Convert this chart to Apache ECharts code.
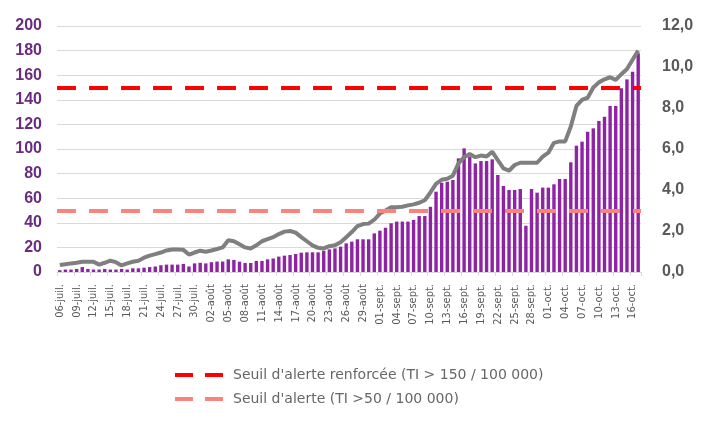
<!DOCTYPE html>
<html>
<head>
<meta charset="utf-8">
<script src="https://cdn.jsdelivr.net/npm/echarts@6/dist/echarts.min.js"></script>
<style>
html,body{margin:0;padding:0;background:#fff;}
#chart{width:701px;height:428px;}
</style>
</head>
<body>
<div id="chart"></div>
<script>
const categories = [
"06-juil.","07-juil.","08-juil.","09-juil.","10-juil.","11-juil.","12-juil.","13-juil.","14-juil.","15-juil.",
"16-juil.","17-juil.","18-juil.","19-juil.","20-juil.","21-juil.","22-juil.","23-juil.","24-juil.","25-juil.",
"26-juil.","27-juil.","28-juil.","29-juil.","30-juil.","31-juil.",
"01-août","02-août","03-août","04-août","05-août","06-août","07-août","08-août","09-août","10-août",
"11-août","12-août","13-août","14-août","15-août","16-août","17-août","18-août","19-août","20-août",
"21-août","22-août","23-août","24-août","25-août","26-août","27-août","28-août","29-août","30-août","31-août",
"01-sept.","02-sept.","03-sept.","04-sept.","05-sept.","06-sept.","07-sept.","08-sept.","09-sept.","10-sept.",
"11-sept.","12-sept.","13-sept.","14-sept.","15-sept.","16-sept.","17-sept.","18-sept.","19-sept.","20-sept.",
"21-sept.","22-sept.","23-sept.","24-sept.","25-sept.","26-sept.","27-sept.","28-sept.","29-sept.","30-sept.",
"01-oct.","02-oct.","03-oct.","04-oct.","05-oct.","06-oct.","07-oct.","08-oct.","09-oct.","10-oct.",
"11-oct.","12-oct.","13-oct.","14-oct.","15-oct.","16-oct.","17-oct."
];

const incidence = [
1.5, 2, 2, 2.5, 4, 2.5, 2, 2, 2.5, 2,
2, 2.5, 2, 3, 3, 3.5, 4, 4.5, 5.5, 6,
6, 6, 6.5, 4.5, 7, 7.5, 7, 8, 8.5, 8.5,
10.3, 9.8, 8.4, 7.3, 7.3, 9, 9, 10.3, 11, 12.5,
13.3, 13.8, 14.6, 15.7, 16, 16, 16, 17.3, 18.4, 19.2,
20.6, 23.3, 24.7, 26.6, 26.6, 26.6, 31.4, 33.6, 36, 39.6,
41, 41, 41, 42.3, 45.5, 45.5, 53, 65.3, 72.6, 73.4,
74.8, 92.4, 100.5, 93.8, 88.3, 90.2, 90.2, 91.6, 78.9, 69.9,
66.7, 66.7, 67.5, 37.6, 67.5, 64.5, 68.6, 68.6, 71.3, 75.6,
75.6, 89.2, 102.7, 106, 114, 116.8, 122.8, 126.3, 135, 135,
149.3, 156.6, 162.9, 177.8
];

const positivity = [
0.34, 0.38, 0.42, 0.45, 0.5, 0.5, 0.5, 0.36, 0.45, 0.55,
0.48, 0.32, 0.42, 0.5, 0.55, 0.7, 0.8, 0.87, 0.95, 1.05,
1.1, 1.1, 1.08, 0.85, 0.95, 1.04, 0.99, 1.05, 1.12, 1.2,
1.55, 1.5, 1.35, 1.2, 1.15, 1.3, 1.5, 1.6, 1.7, 1.85,
1.97, 2.0, 1.92, 1.7, 1.5, 1.3, 1.18, 1.15, 1.26, 1.3,
1.45, 1.7, 1.95, 2.24, 2.34, 2.36, 2.55, 2.85, 3.0, 3.16,
3.16, 3.18, 3.25, 3.3, 3.38, 3.5, 3.88, 4.3, 4.5, 4.55,
4.7, 5.3, 5.6, 5.76, 5.6, 5.68, 5.63, 5.87, 5.46, 5.05,
4.94, 5.22, 5.33, 5.33, 5.33, 5.33, 5.63, 5.82, 6.3, 6.37,
6.37, 7.1, 8.1, 8.4, 8.5, 9.0, 9.25, 9.4, 9.5, 9.37,
9.65, 9.9, 10.35, 10.8
];

const thresholdValues = [150, 50];
const thresholdNames = ["Seuil d'alerte renforcée (TI > 150 / 100 000)", "Seuil d'alerte (TI >50 / 100 000)"];
const thresholdColors = ['#FF0000', '#F8837F'];

const leftTicks = {min: 0, max: 200, interval: 20};
const rightTicks = {min: 0, max: 12, interval: 2};

const chart = echarts.init(document.getElementById('chart'), null, {renderer: 'canvas'});

const font = "'Liberation Sans', Arial, sans-serif";
const dashIcon = 'path://M0,0h18v4h-18z M30,0h18v4h-18z';

const thresholdSeries = thresholdValues.map((v, k) => ({
  name: thresholdNames[k],
  type: 'line',
  data: [],
  symbol: 'none',
  z: 5,
  lineStyle: {color: thresholdColors[k], width: 4, type: [18, 12]},
  itemStyle: {color: thresholdColors[k]},
  markLine: {
    silent: true,
    symbol: ['none', 'none'],
    label: {show: false},
    z: 5,
    lineStyle: {color: thresholdColors[k], width: 4, type: [19, 13]},
    data: [{yAxis: v}]
  }
}));

const option = {
  backgroundColor: '#ffffff',
  animation: false,
  grid: {left: 57, right: 60, top: 26, bottom: 156, containLabel: false},
  legend: {
    orient: 'vertical',
    left: 170,
    top: 363,
    itemWidth: 48,
    itemHeight: 4,
    itemGap: 10,
    data: thresholdNames.map((n, k) => ({name: n, icon: dashIcon, itemStyle: {color: thresholdColors[k]}})),
    textStyle: {fontSize: 14, color: '#666666', fontFamily: "'DejaVu Sans', sans-serif", padding: [0, 0, 0, 5]}
  },
  xAxis: {
    type: 'category',
    data: categories,
    boundaryGap: true,
    axisLine: {show: true, lineStyle: {color: '#D9D9D9', width: 1}},
    axisTick: {show: true, interval: 2, length: 4, lineStyle: {color: '#D9D9D9'}},
    axisLabel: {
      interval: 2,
      rotate: 90,
      margin: 12,
      fontSize: 11,
      color: '#595959',
      fontFamily: "'Liberation Sans Narrow', 'DejaVu Sans Condensed', 'Liberation Sans', sans-serif"
    }
  },
  yAxis: [
    {
      type: 'value',
      min: leftTicks.min, max: leftTicks.max, interval: leftTicks.interval,
      axisLine: {show: false},
      axisTick: {show: false},
      splitLine: {show: true, lineStyle: {color: '#D9D9D9', width: 1}},
      axisLabel: {margin: 15, fontSize: 16, fontWeight: 'bold', color: '#6A2C7E', fontFamily: font}
    },
    {
      type: 'value',
      min: rightTicks.min, max: rightTicks.max, interval: rightTicks.interval,
      axisLine: {show: false},
      axisTick: {show: false},
      splitLine: {show: false},
      axisLabel: {
        margin: 21, fontSize: 16, fontWeight: 'bold', color: '#595959', fontFamily: font,
        formatter: v => v.toFixed(1).replace('.', ',')
      }
    }
  ],
  series: [
    {
      name: 'Taux d\'incidence',
      type: 'bar',
      data: incidence,
      barWidth: 3.4,
      z: 2,
      itemStyle: {color: '#8E24A4'}
    },
    {
      name: 'Taux de positivité',
      type: 'line',
      yAxisIndex: 1,
      data: positivity,
      symbol: 'none',
      z: 4,
      lineStyle: {color: '#7F7F7F', width: 4},
      itemStyle: {color: '#7F7F7F'}
    },
    ...thresholdSeries
  ]
};

chart.setOption(option);
</script>
</body>
</html>
